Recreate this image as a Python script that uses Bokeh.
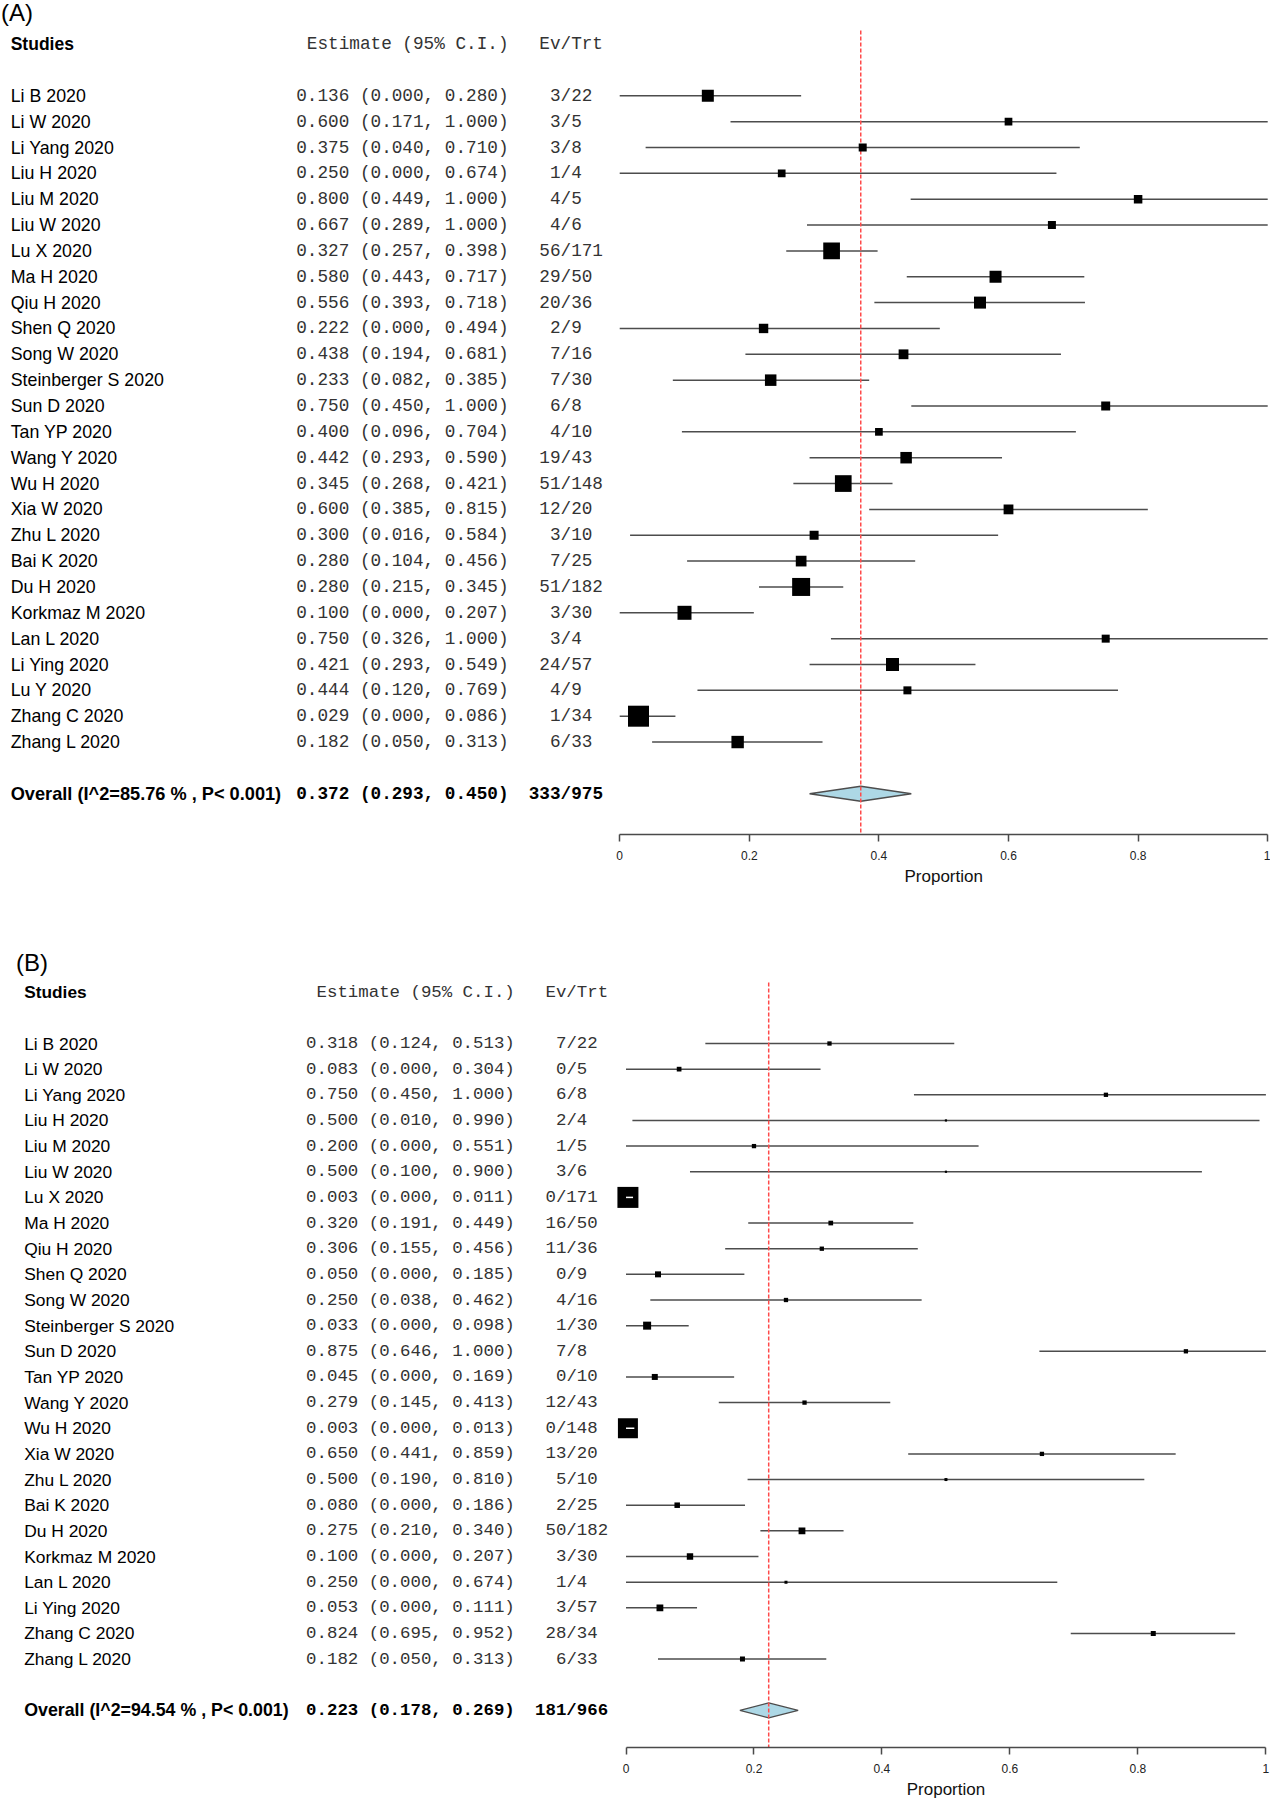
from bokeh.plotting import figure
from bokeh.models import Range1d, FixedTicker, ColumnDataSource, CustomJSTickFormatter, Title
from bokeh.layouts import column
from bokeh.embed import file_html
from bokeh.resources import INLINE
from bokeh.core.properties import value

# ---------------- data: panel A ----------------
studies_a = ["Li B 2020", "Li W 2020", "Li Yang 2020", "Liu H 2020", "Liu M 2020", "Liu W 2020",
             "Lu X 2020", "Ma H 2020", "Qiu H 2020", "Shen Q 2020", "Song W 2020",
             "Steinberger S 2020", "Sun D 2020", "Tan YP 2020", "Wang Y 2020", "Wu H 2020",
             "Xia W 2020", "Zhu L 2020", "Bai K 2020", "Du H 2020", "Korkmaz M 2020",
             "Lan L 2020", "Li Ying 2020", "Lu Y 2020", "Zhang C 2020", "Zhang L 2020"]
est_a = [0.136, 0.600, 0.375, 0.250, 0.800, 0.667, 0.327, 0.580, 0.556, 0.222, 0.438, 0.233, 0.750,
         0.400, 0.442, 0.345, 0.600, 0.300, 0.280, 0.280, 0.100, 0.750, 0.421, 0.444, 0.029, 0.182]
lo_a = [0.000, 0.171, 0.040, 0.000, 0.449, 0.289, 0.257, 0.443, 0.393, 0.000, 0.194, 0.082, 0.450,
        0.096, 0.293, 0.268, 0.385, 0.016, 0.104, 0.215, 0.000, 0.326, 0.293, 0.120, 0.000, 0.050]
hi_a = [0.280, 1.000, 0.710, 0.674, 1.000, 1.000, 0.398, 0.717, 0.718, 0.494, 0.681, 0.385, 1.000,
        0.704, 0.590, 0.421, 0.815, 0.584, 0.456, 0.345, 0.207, 1.000, 0.549, 0.769, 0.086, 0.313]
ev_a = [3, 3, 3, 1, 4, 4, 56, 29, 20, 2, 7, 7, 6, 4, 19, 51, 12, 3, 7, 51, 3, 3, 24, 4, 1, 6]
trt_a = [22, 5, 8, 4, 5, 6, 171, 50, 36, 9, 16, 30, 8, 10, 43, 148, 20, 10, 25, 182, 30, 4, 57, 9, 34, 33]
weight_a = [12, 7.7, 8, 7.7, 8.5, 8, 16.7, 12, 12, 9.4, 9.8, 11.5, 9, 7.7, 11.5, 16.7, 9.8, 9,
            10.7, 18, 14, 8, 13, 8, 21, 12.4]
overall_a = [0.372, 0.293, 0.450]
overall_ev_a = [333, 975]
overall_het_a = ["85.76", "0.001"]

# ---------------- data: panel B ----------------
studies_b = ["Li B 2020", "Li W 2020", "Li Yang 2020", "Liu H 2020", "Liu M 2020", "Liu W 2020",
             "Lu X 2020", "Ma H 2020", "Qiu H 2020", "Shen Q 2020", "Song W 2020",
             "Steinberger S 2020", "Sun D 2020", "Tan YP 2020", "Wang Y 2020", "Wu H 2020",
             "Xia W 2020", "Zhu L 2020", "Bai K 2020", "Du H 2020", "Korkmaz M 2020",
             "Lan L 2020", "Li Ying 2020", "Zhang C 2020", "Zhang L 2020"]
est_b = [0.318, 0.083, 0.750, 0.500, 0.200, 0.500, 0.003, 0.320, 0.306, 0.050, 0.250, 0.033, 0.875,
         0.045, 0.279, 0.003, 0.650, 0.500, 0.080, 0.275, 0.100, 0.250, 0.053, 0.824, 0.182]
lo_b = [0.124, 0.000, 0.450, 0.010, 0.000, 0.100, 0.000, 0.191, 0.155, 0.000, 0.038, 0.000, 0.646,
        0.000, 0.145, 0.000, 0.441, 0.190, 0.000, 0.210, 0.000, 0.000, 0.000, 0.695, 0.050]
hi_b = [0.513, 0.304, 1.000, 0.990, 0.551, 0.900, 0.011, 0.449, 0.456, 0.185, 0.462, 0.098, 1.000,
        0.169, 0.413, 0.013, 0.859, 0.810, 0.186, 0.340, 0.207, 0.674, 0.111, 0.952, 0.313]
ev_b = [7, 0, 6, 2, 1, 3, 0, 16, 11, 0, 4, 1, 7, 0, 12, 0, 13, 5, 2, 50, 3, 1, 3, 28, 6]
trt_b = [22, 5, 8, 4, 5, 6, 171, 50, 36, 9, 16, 30, 8, 10, 43, 148, 20, 10, 25, 182, 30, 4, 57, 34, 33]
weight_b = [4.3, 4.7, 4.3, 2.2, 4.3, 2.2, 21, 4.7, 4.3, 6, 4.3, 8, 4.3, 6, 4.3, 20, 4.3, 3,
            5.5, 6.8, 6.4, 3, 6.8, 5, 5]
overall_b = [0.223, 0.178, 0.269]
overall_ev_b = [181, 966]
overall_het_b = ["94.54", "0.001"]

tick_values = [0, 0.2, 0.4, 0.6, 0.8, 1]
tick_labels = ["0", "0.2", "0.4", "0.6", "0.8", "1"]
axis_title = "Proportion"

SANS = "Liberation Sans"
MONO = "Liberation Mono"
FIG_W = 1270


def build_panel(tag, studies, est, lo, hi, ev, trt, weight, overall, overall_ev, het, g):
    top, H, fb = g["top"], g["height"], g["frame_bottom"]
    sx = g["x1"] - g["x0"]

    def X(px):
        return (px - g["x0"]) / sx

    def Y(py):
        return (py - g["row0"]) / g["step"]

    frame_h = fb - top
    p = figure(width=FIG_W, height=H,
               x_range=Range1d(X(0), X(FIG_W)),
               y_range=Range1d(Y(fb), Y(top)),
               output_backend="svg", toolbar_location=None, y_axis_location=None,
               min_border_left=0, min_border_right=0, min_border_top=0,
               min_border_bottom=H - frame_h)
    p.outline_line_color = None
    p.grid.visible = False
    p.background_fill_color = "white"

    ax = p.xaxis[0]
    ax.ticker = FixedTicker(ticks=tick_values)
    ax.formatter = CustomJSTickFormatter(args=dict(labels=tick_labels), code="return labels[index];")
    ax.bounds = (0, 1)
    ax.axis_line_color = "#4a4a4a"
    ax.axis_line_width = 1.5
    ax.major_tick_line_color = "#4a4a4a"
    ax.major_tick_line_width = 1.5
    ax.major_tick_in = 0
    ax.major_tick_out = 7
    ax.minor_tick_line_color = None
    ax.major_label_text_font = SANS
    ax.major_label_text_font_size = "12px"
    ax.major_label_text_color = "#222222"
    ax.major_label_standoff = g["label_standoff"]

    # axis title centred under the 0..1 axis
    title_w = 4.613 * 17
    xt = Title(text=axis_title, align="left", offset=g["x0"] + 0.5 * sx - 0.5 * title_w,
               text_font=SANS, text_font_size="17px", text_font_style="normal",
               text_color="#111111", standoff=g["title_standoff"])
    p.add_layout(xt, "below")

    nrow = len(studies)
    rows = list(range(nrow))
    ov_row = nrow + 1
    cw = g["char_w"]

    est_txt = ["%.3f (%.3f, %.3f)" % (e, l, h) for e, l, h in zip(est, lo, hi)]
    evt_txt = ["%d/%d" % (a, b) for a, b in zip(ev, trt)]
    xoff = [cw * ((6 - len(s)) // 2) for s in evt_txt]

    src = ColumnDataSource(dict(y=rows, name=studies, est=est, lo=lo, hi=hi, est_txt=est_txt,
                                evt=evt_txt, xoff=xoff, size=weight))

    # text columns
    p.text(x=X(g["name_x"]), y="y", text="name", source=src, text_font=value(SANS),
           text_font_size=value(g["name_fs"]), text_baseline="middle", text_align="left",
           text_color="#000000")
    p.text(x=X(g["est_right"]), y="y", text="est_txt", source=src, text_font=value(MONO),
           text_font_size=value(g["mono_fs"]), text_baseline="middle", text_align="right",
           text_color="#333333")
    p.text(x=X(g["ev_x"]), y="y", text="evt", x_offset="xoff", source=src, text_font=value(MONO),
           text_font_size=value(g["mono_fs"]), text_baseline="middle", text_align="left",
           text_color="#333333")

    # headers
    p.text(x=[X(g["name_x"])], y=[-2], text=["Studies"], text_font=value(SANS),
           text_font_style="bold", text_font_size=value(g["head_fs"]), text_baseline="middle",
           text_color="#000000")
    p.text(x=[X(g["est_right"])], y=[-2], text=["Estimate (95% C.I.)"], text_font=value(MONO),
           text_font_size=value(g["mono_fs"]), text_baseline="middle", text_align="right",
           text_color="#333333")
    p.text(x=[X(g["ev_x"])], y=[-2], text=["Ev/Trt"], text_font=value(MONO),
           text_font_size=value(g["mono_fs"]), text_baseline="middle", text_align="left",
           text_color="#333333")
    p.text(x=[X(g["tag_x"])], y=[Y(g["tag_cy"])], text=[tag], text_font=value(SANS),
           text_font_size=value("24px"), text_baseline="middle", text_color="#000000")

    # overall row
    ov_lbl = "Overall (I^2=%s %% , P< %s)" % (het[0], het[1])
    ov_est_txt = "%.3f (%.3f, %.3f)" % tuple(overall)
    ov_evt = "%d/%d" % tuple(overall_ev)
    p.text(x=[X(g["name_x"])], y=[ov_row], text=[ov_lbl], text_font=value(SANS),
           text_font_style="bold", text_font_size=value(g["ov_fs"]), text_baseline="middle",
           text_color="#000000")
    p.text(x=[X(g["est_right"])], y=[ov_row], text=[ov_est_txt], text_font=value(MONO),
           text_font_style="bold", text_font_size=value(g["mono_fs"]), text_baseline="middle",
           text_align="right", text_color="#000000")
    p.text(x=[X(g["ev_x"])], y=[ov_row], text=[ov_evt], x_offset=cw * ((6 - len(ov_evt)) // 2),
           text_font=value(MONO), text_font_style="bold", text_font_size=value(g["mono_fs"]),
           text_baseline="middle", text_align="left", text_color="#000000")

    # CI lines
    p.segment(x0="lo", y0="y", x1="hi", y1="y", source=src, line_color="#4d4d4d", line_width=1.5)

    # summary diamond
    h = 7.5 / g["step"]
    p.patch(x=[overall[1], overall[0], overall[2], overall[0]],
            y=[ov_row, ov_row - h, ov_row, ov_row + h],
            fill_color="#add8e6", line_color="#4d4d4d", line_width=1.3)

    # reference line at pooled estimate
    p.segment(x0=[overall[0]], y0=[Y(g["red_top"])], x1=[overall[0]], y1=[Y(fb)],
              line_color="#ff4a4a", line_width=1.5, line_dash="4 2")

    # boxes
    p.scatter(x="est", y="y", size="size", marker="square", source=src,
              fill_color="#000000", line_color=None)

    # CIs narrower than their box are drawn in white on top
    wi = [i for i in rows if (hi[i] - lo[i]) * sx < weight[i]]
    if wi:
        p.segment(x0=[lo[i] for i in wi], y0=wi, x1=[hi[i] for i in wi], y1=wi,
                  line_color="white", line_width=1.5)
    return p


geom_a = dict(top=0, height=916, frame_bottom=834, x0=619.2, x1=1267.2, row0=95.3, step=25.85,
              name_x=10.2, est_right=508, ev_x=538.8, char_w=10.6, name_fs="17.8px",
              mono_fs="17.7px", head_fs="17.5px", ov_fs="18.2px", red_top=30,
              tag_x=0.5, tag_cy=12, label_standoff=9, title_standoff=4)
geom_b = dict(top=916, height=884, frame_bottom=1747, x0=625.5, x1=1265.4, row0=1043, step=25.65,
              name_x=23.7, est_right=514.3, ev_x=545, char_w=10.45, name_fs="17.4px",
              mono_fs="17.4px", head_fs="17.3px", ov_fs="17.8px", red_top=982,
              tag_x=15.5, tag_cy=962, label_standoff=9, title_standoff=4)

pa = build_panel("(A)", studies_a, est_a, lo_a, hi_a, ev_a, trt_a, weight_a, overall_a,
                 overall_ev_a, overall_het_a, geom_a)
pb = build_panel("(B)", studies_b, est_b, lo_b, hi_b, ev_b, trt_b, weight_b, overall_b,
                 overall_ev_b, overall_het_b, geom_b)

layout = column(pa, pb, spacing=0)
open("out.html", "w").write(file_html(layout, INLINE))
